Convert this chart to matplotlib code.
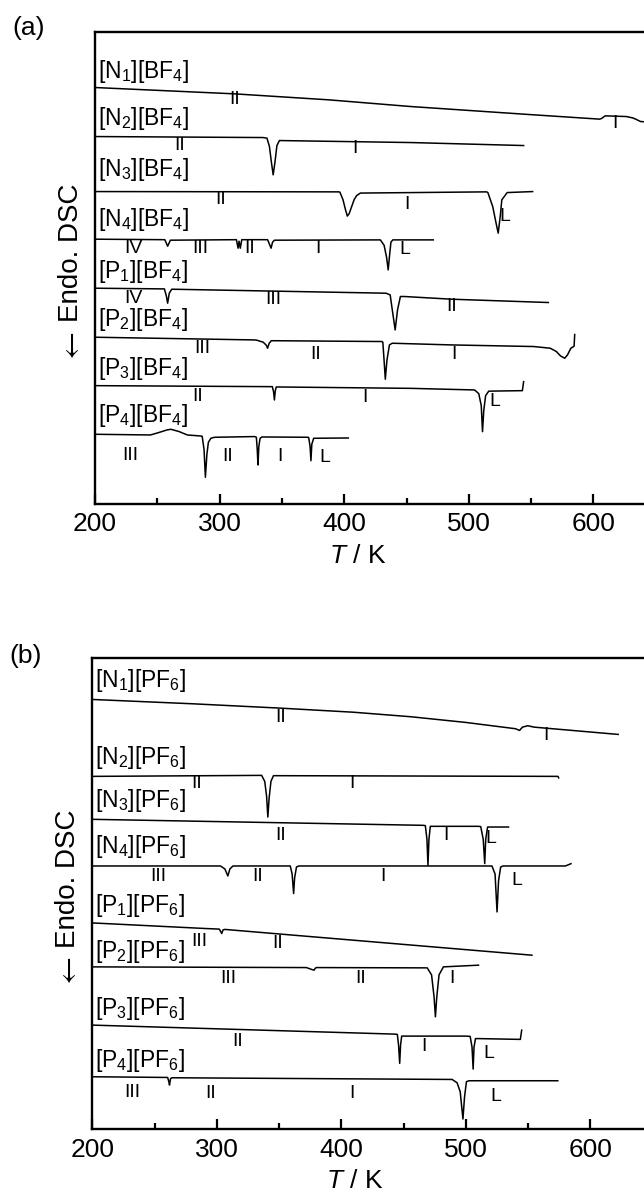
#!/usr/bin/env python3
# DSC traces, two stacked panels: (a) [X][BF4] salts, (b) [X][PF6] salts
import matplotlib
matplotlib.use("Agg")
import matplotlib.pyplot as plt
from matplotlib.ticker import MultipleLocator

plt.rcParams.update({
    "font.family": ["Liberation Sans", "DejaVu Sans"],
    "mathtext.fontset": "custom",
    "mathtext.rm": "Liberation Sans",
    "mathtext.it": "Liberation Sans:italic",
})

# ===================== DATA (T in K, signal in a.u., endo down) =====================
# ---- (a) BF4 salts ----
T_N1_BF4 = [200, 311.7, 387.5, 453.4, 552.2, 604.9, 606.5, 609.5, 626.4, 632, 637.9, 650]
S_N1_BF4 = [0, -6.3, -12.3, -19, -27.3, -31.6, -31.0, -28.3, -29, -30.5, -34, -35]

T_N2_BF4 = [200, 334.8, 338, 340, 341.5, 343, 344.5, 346, 348, 453.4, 544]
S_N2_BF4 = [0, -1, -1.6, -10, -25, -38.3, -25, -9, -4, -6, -9]

T_N3_BF4 = [200, 395.7, 396.5, 399, 401, 402.5, 404, 406, 408, 410, 413,
            514.3, 515.3, 519.2, 521.9, 523.6, 525.2, 526.5, 530.8, 551.2]
S_N3_BF4 = [0, -0.3, -0.5, -8, -18, -24.5, -22, -15, -8, -4, -1.5,
            -0.3, -1, -15, -31.6, -41.6, -25, -8.3, -1, 0]

T_N4_BF4 = [200, 256, 258.3, 260.5, 313.5, 314.8, 315.6, 316.6, 317.8,
            338.5, 340, 341.3, 342.5, 344, 429, 432, 434, 435.3, 436.5, 437.5, 439, 471.5]
S_N4_BF4 = [0, -0.5, -7, -1, -0.5, -9, -2, -9, -0.5,
            -0.5, -5, -9, -3, -1, -0.7, -6, -18, -30.7, -15, -3, -0.7, -0.7]

T_P1_BF4 = [200, 255.7, 257.3, 258.3, 259.6, 261.6, 433.6, 436.9, 438.6, 440.9,
            442.8, 445.1, 448.4, 486.3, 563.8]
S_P1_BF4 = [0, -0.7, -8, -15, -5, -1, -5, -6.7, -21.7, -41.7,
            -21.7, -8.3, -8.3, -11, -14.3]

T_P2_BF4 = [200, 328.2, 330, 335, 337.5, 338.5, 339.8, 341.5, 345, 430.3, 431, 432, 433,
            434.3, 436.3, 438.6, 486.3, 552.2, 565.4, 570.3, 573.6, 577, 579.2, 581.9, 584.5, 585]
S_P2_BF4 = [0, -2.7, -3, -5, -8, -11, -6, -3.5, -3.5, -4.3, -5, -23, -42,
            -23, -7.7, -6, -7.7, -9.3, -11, -14.3, -18.7, -21, -17.7, -11, -9, 2.7]

T_P3_BF4 = [200, 341.3, 342.3, 343.3, 344, 344.7, 345.5, 453.4, 504.4, 505, 508, 510,
            511, 512, 513.5, 516, 543, 544]
S_P3_BF4 = [0, -1, -1, -6, -14.3, -5, -1.3, -2.7, -4.3, -4.7, -8, -20,
            -46, -25, -10, -5.5, -5, 4]

T_P4_BF4 = [200, 244.5, 251.1, 257.7, 260.9, 267.5, 274.1, 284.6, 286, 287.5, 288.6, 289.8,
            291, 293, 296, 328.2, 329.5, 330.2, 330.8, 331.5, 332.5, 334, 371, 371.5,
            372.6, 373.3, 374, 375.5, 403.3]
S_P4_BF4 = [0, -0.7, 1.7, 4.3, 5, 2.7, -0.7, -1.7, -2, -15, -43, -20,
            -8, -4, -3, -2.3, -3, -15, -30.7, -12, -4, -2.7, -3, -3.3,
            -12, -26.4, -10, -4, -3.7]

# ---- (b) PF6 salts ----
T_N1_PF6 = [200, 280, 351.2, 410, 455.8, 500, 539.9, 543.2, 545.5, 549.8, 554.8, 622.4]
S_N1_PF6 = [0, -4.3, -8.7, -12.8, -17.3, -23, -29.3, -31, -27.7, -26.3, -27.7, -35]

T_N2_PF6 = [200, 336, 338.5, 340, 341, 342, 343.5, 345.5, 574, 574.6]
S_N2_PF6 = [0, 1, -5, -20, -40.7, -22, -5, 0.7, 0, -1.5]

T_N3_PF6 = [200, 465.7, 467.5, 468.8, 469.6, 470.4, 471.5, 473, 510.2, 512, 514,
            515.2, 516, 517.5, 520, 534.3]
S_N3_PF6 = [0, -6, -6.3, -20, -46, -20, -7, -7, -7, -7.3, -20,
            -44.3, -20, -7.7, -7.7, -7.7]

T_N4_PF6 = [200, 303, 306.5, 308.9, 310.5, 313, 359, 360.5, 361.7, 362.5, 364, 366,
            521, 523.5, 525.1, 526.3, 528, 530, 580, 584.5]
S_N4_PF6 = [0, 0, -3, -10, -3, 0, 0, -8, -27.6, -12, -1, 0,
            0, -8, -46, -15, -1, 0, 0, 2.3]

T_P1_PF6 = [200, 290.8, 302, 304, 305, 306.5, 553.1]
S_P1_PF6 = [0, -5.6, -6.2, -10.6, -7, -6.5, -32.3]

T_P2_PF6 = [200, 372, 376, 378.2, 379, 380, 469, 472.5, 474.5, 475.6, 476.7, 478.5, 482, 510.2]
S_P2_PF6 = [0, -0.7, -2.5, -3.3, -1.5, -0.7, -1, -8, -30, -50, -30, -8, 0, 1.7]

T_P3_PF6 = [200, 442.6, 445, 446, 446.9, 447.6, 448.5, 450, 500, 503.5, 505, 505.9,
            506.6, 507.8, 510, 543.8, 544.9]
S_P3_PF6 = [0, -9, -9.3, -20, -38.3, -20, -11, -11, -11, -11.3, -22, -44,
            -22, -13.5, -13.5, -14.3, -5]

T_P4_PF6 = [200, 260.5, 261.5, 262, 262.8, 264, 489, 493, 495.5, 497.7, 499, 500.5, 502.5, 573.9]
S_P4_PF6 = [0, -0.7, -5, -8.3, -2, -1, -2.7, -6, -15, -42.3, -20, -5, -4, -4]

NAMES_BF4 = [r"[N$_1$][BF$_4$]", r"[N$_2$][BF$_4$]", r"[N$_3$][BF$_4$]", r"[N$_4$][BF$_4$]",
             r"[P$_1$][BF$_4$]", r"[P$_2$][BF$_4$]", r"[P$_3$][BF$_4$]", r"[P$_4$][BF$_4$]"]
NAMES_PF6 = [r"[N$_1$][PF$_6$]", r"[N$_2$][PF$_6$]", r"[N$_3$][PF$_6$]", r"[N$_4$][PF$_6$]",
             r"[P$_1$][PF$_6$]", r"[P$_2$][PF$_6$]", r"[P$_3$][PF$_6$]", r"[P$_4$][PF$_6$]"]

# phase labels: (text, T) per trace
PHASES_BF4 = [
    [("II", 311.7), ("I", 617)],
    [("II", 267.9), ("I", 408.9)],
    [("II", 300.8), ("I", 450), ("L", 529)],
    [("IV", 231), ("III", 284.3), ("II", 323.9), ("I", 379.2), ("L", 448.4)],
    [("IV", 231), ("III", 343), ("II", 486.3)],
    [("III", 286), ("II", 377), ("I", 488)],
    [("II", 282.7), ("I", 417), ("L", 521)],
    [("III", 228.7), ("II", 306.8), ("I", 348.6), ("L", 384.2)],
]
PHASES_PF6 = [
    [("II", 351.2), ("I", 564.7)],
    [("II", 283.5), ("I", 408.9)],
    [("II", 351.2), ("I", 483.8), ("L", 520)],
    [("III", 252.8), ("II", 333), ("I", 433.3), ("L", 541)],
    [("III", 285.8), ("II", 349.2)],
    [("III", 308.9), ("II", 415.2), ("I", 488.8)],
    [("II", 316.5), ("I", 466.3), ("L", 518.5)],
    [("III", 232), ("II", 294.7), ("I", 408.9), ("L", 524.4)],
]

# ===================== LAYOUT =====================
OFFSETS_BF4 = [416.3, 367.3, 312.3, 264.7, 215.7, 166.7, 118.3, 69.7]
OFFSETS_PF6 = [430.3, 353.3, 310.3, 263.6, 206.6, 162.6, 104.3, 52.6]
NAME_Y_BF4 = [432, 385.7, 334, 284, 232, 184, 135.7, 88.5]
NAME_Y_PF6 = [449.3, 372.6, 329.3, 282.6, 224.3, 177.6, 121, 69.3]
PHASE_Y_BF4 = [[404, 380.7], [358.4, 355.7], [304, 299, 287.3],
               [255.7, 255.7, 255.7, 255.7, 254], [205.7, 204, 197.3],
               [155.7, 149, 149], [107.3, 106, 102.3], [48, 47, 47, 46]]
PHASE_Y_PF6 = [[412.6, 394.3], [346, 346], [294.3, 294.3, 291],
               [252.6, 252.6, 252.6, 249.3], [187.6, 186], [151, 151, 151],
               [87.6, 82.6, 76], [36.6, 36, 36, 32.6]]

W, H = 644, 1193


def draw_panel(ax, Ts, Ss, offsets, names, name_y, phases, phase_y):
    for T, S, off in zip(Ts, Ss, offsets):
        ax.plot(T, [off + s for s in S], color="k", lw=1.1, solid_joinstyle="round")
    for name, y in zip(names, name_y):
        ax.text(202.5, y, name, fontsize=16.5, ha="left", va="center")
    for plist, ylist in zip(phases, phase_y):
        for (txt, t), y in zip(plist, ylist):
            ax.text(t, y, txt, fontsize=14, ha="center", va="center")

    ax.set_xlim(200, 650)
    ax.set_ylim(0, 471.5)
    ax.set_yticks([])
    ax.xaxis.set_major_locator(MultipleLocator(100))
    ax.xaxis.set_minor_locator(MultipleLocator(50))
    ax.tick_params(axis="x", which="major", direction="in", length=7.5, width=1.6,
                   labelsize=19, pad=6, top=False)
    ax.tick_params(axis="x", which="minor", direction="in", length=4.5, width=1.6, top=False)
    for sp in ax.spines.values():
        sp.set_linewidth(1.7)
    ax.text(0.469, -0.11, r"$T$ / K", transform=ax.transAxes, fontsize=19,
            ha="center", va="center")
    # y label: thin long arrow from STIX math, text in Liberation Sans
    ax.text(-0.0428, 0.533, "Endo. DSC", transform=ax.transAxes, fontsize=20,
            ha="center", va="center", rotation=90)
    ax.text(-0.0415, 0.332, r"$\leftarrow$", transform=ax.transAxes, fontsize=22,
            math_fontfamily="stixsans", ha="center", va="center", rotation=90)


fig = plt.figure(figsize=(W / 100, H / 100), dpi=100)

# (a): left 95 px, top 32 px, bottom 504 px
ax_a = fig.add_axes([95 / W, 1 - 504 / H, 450 * 1.246 / W, 471.7 / H])
draw_panel(ax_a,
           [T_N1_BF4, T_N2_BF4, T_N3_BF4, T_N4_BF4, T_P1_BF4, T_P2_BF4, T_P3_BF4, T_P4_BF4],
           [S_N1_BF4, S_N2_BF4, S_N3_BF4, S_N4_BF4, S_P1_BF4, S_P2_BF4, S_P3_BF4, S_P4_BF4],
           OFFSETS_BF4, NAMES_BF4, NAME_Y_BF4, PHASES_BF4, PHASE_Y_BF4)

# (b): left 92 px, top 658 px, bottom 1129 px
ax_b = fig.add_axes([92.3 / W, 1 - 1129.3 / H, 450 * 1.245 / W, 471 / H])
draw_panel(ax_b,
           [T_N1_PF6, T_N2_PF6, T_N3_PF6, T_N4_PF6, T_P1_PF6, T_P2_PF6, T_P3_PF6, T_P4_PF6],
           [S_N1_PF6, S_N2_PF6, S_N3_PF6, S_N4_PF6, S_P1_PF6, S_P2_PF6, S_P3_PF6, S_P4_PF6],
           OFFSETS_PF6, NAMES_PF6, NAME_Y_PF6, PHASES_PF6, PHASE_Y_PF6)

fig.text(29 / W, 1 - 28 / H, "(a)", fontsize=19, ha="center", va="center")
fig.text(26 / W, 1 - 656 / H, "(b)", fontsize=19, ha="center", va="center")

fig.savefig("out.png", dpi=100)
